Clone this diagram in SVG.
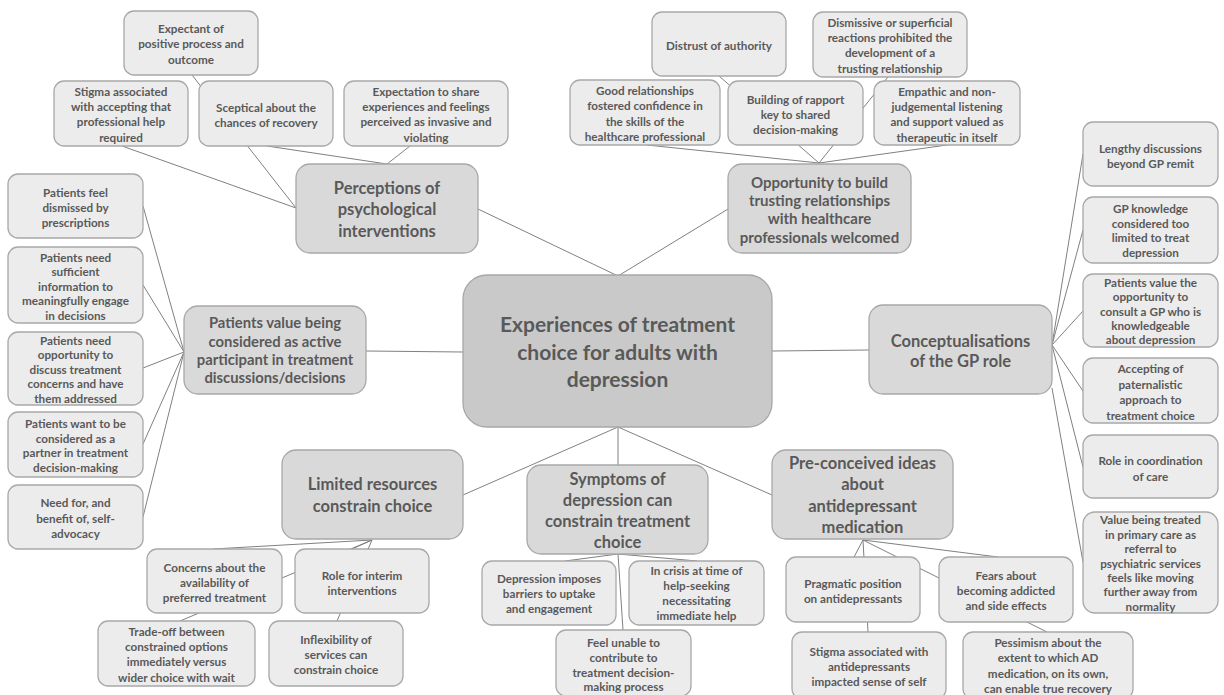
<svg xmlns="http://www.w3.org/2000/svg" width="1224" height="695" viewBox="0 0 1224 695">
<style>
.bg{fill:#ffffff}
.ln{stroke:#808080;stroke-width:1;fill:none}
.c{fill:#ececec;stroke:#a8a8a8;stroke-width:1.3}
.t{fill:#d9d9d9;stroke:#a8a8a8;stroke-width:1.3}
.m{fill:#c9c9c9;stroke:#a8a8a8;stroke-width:1.3}
text{font-family:Lato,"Liberation Sans",sans-serif;font-weight:bold;fill:#595959;text-anchor:middle}
.s{font-size:11.7px}
.l{font-size:16.5px}
.x{font-size:21px}
.p{font-size:14.8px}
.o{font-size:15px}
</style>
<rect class="bg" x="0" y="0" width="1224" height="695"/>
<g id="connectors">
<line class="ln" x1="296" y1="208" x2="192" y2="75"/>
<line class="ln" x1="296" y1="208" x2="122" y2="146"/>
<line class="ln" x1="387" y1="164" x2="267" y2="146"/>
<line class="ln" x1="387" y1="164" x2="410" y2="146"/>
<line class="ln" x1="819" y1="163" x2="719" y2="76"/>
<line class="ln" x1="819" y1="163" x2="647" y2="145"/>
<line class="ln" x1="819" y1="163" x2="888" y2="77"/>
<line class="ln" x1="819" y1="163" x2="947" y2="145"/>
<line class="ln" x1="478" y1="209" x2="618" y2="276"/>
<line class="ln" x1="618" y1="276" x2="728" y2="209"/>
<line class="ln" x1="366" y1="351" x2="463" y2="352"/>
<line class="ln" x1="772" y1="351" x2="869" y2="350"/>
<line class="ln" x1="618" y1="427" x2="463" y2="495"/>
<line class="ln" x1="618" y1="427" x2="618" y2="465"/>
<line class="ln" x1="618" y1="427" x2="772" y2="495"/>
<line class="ln" x1="184" y1="352" x2="143" y2="206"/>
<line class="ln" x1="184" y1="352" x2="143" y2="285"/>
<line class="ln" x1="184" y1="352" x2="143" y2="368"/>
<line class="ln" x1="184" y1="352" x2="143" y2="444"/>
<line class="ln" x1="184" y1="352" x2="143" y2="517"/>
<line class="ln" x1="1052" y1="345" x2="1083" y2="154"/>
<line class="ln" x1="1052" y1="345" x2="1083" y2="230"/>
<line class="ln" x1="1052" y1="345" x2="1083" y2="311"/>
<line class="ln" x1="1052" y1="345" x2="1083" y2="391"/>
<line class="ln" x1="1052" y1="345" x2="1083" y2="467"/>
<line class="ln" x1="1052" y1="388" x2="1083" y2="562"/>
<line class="ln" x1="372" y1="540" x2="213" y2="549"/>
<line class="ln" x1="372" y1="540" x2="352" y2="549"/>
<line class="ln" x1="372" y1="540" x2="337" y2="621"/>
<line class="ln" x1="372" y1="540" x2="180" y2="621"/>
<line class="ln" x1="618" y1="554" x2="565" y2="561"/>
<line class="ln" x1="618" y1="554" x2="697" y2="561"/>
<line class="ln" x1="618" y1="554" x2="623" y2="630"/>
<line class="ln" x1="863" y1="540" x2="854" y2="557"/>
<line class="ln" x1="863" y1="540" x2="868" y2="632"/>
<line class="ln" x1="863" y1="540" x2="998" y2="557"/>
<line class="ln" x1="863" y1="540" x2="1047" y2="632"/>
</g>
<g id="central"><rect class="m" x="463" y="275" width="309" height="152" rx="24"/>
<text class="x"><tspan x="617.5" y="332">Experiences of treatment</tspan><tspan x="617.5" y="360">choice for adults with</tspan><tspan x="617.5" y="387">depression</tspan></text></g>
<g id="perceptions"><rect class="t" x="296" y="164" width="182" height="89" rx="14"/>
<text class="l"><tspan x="387" y="194">Perceptions of</tspan><tspan x="387" y="215">psychological</tspan><tspan x="387" y="237">interventions</tspan></text></g>
<g id="opportunity"><rect class="t" x="728" y="164" width="183" height="89" rx="14"/>
<text class="o"><tspan x="819.5" y="187.5">Opportunity to build</tspan><tspan x="819.5" y="206">trusting relationships</tspan><tspan x="819.5" y="224">with healthcare</tspan><tspan x="819.5" y="242.5">professionals welcomed</tspan></text></g>
<g id="active"><rect class="t" x="184" y="306" width="182" height="88" rx="14"/>
<text class="p"><tspan x="275" y="328">Patients value being</tspan><tspan x="275" y="347">considered as active</tspan><tspan x="275" y="365">participant in treatment</tspan><tspan x="275" y="383">discussions/decisions</tspan></text></g>
<g id="gprole"><rect class="t" x="869" y="305" width="183" height="89" rx="14"/>
<text class="l"><tspan x="960.5" y="347">Conceptualisations</tspan><tspan x="960.5" y="367">of the GP role</tspan></text></g>
<g id="limited"><rect class="t" x="282" y="450" width="181" height="89" rx="14"/>
<text class="l"><tspan x="372.5" y="490">Limited resources</tspan><tspan x="372.5" y="512">constrain choice</tspan></text></g>
<g id="symptoms"><rect class="t" x="527" y="465" width="181" height="89" rx="14"/>
<text class="l"><tspan x="617.5" y="485">Symptoms of</tspan><tspan x="617.5" y="506">depression can</tspan><tspan x="617.5" y="527">constrain treatment</tspan><tspan x="617.5" y="548">choice</tspan></text></g>
<g id="preconceived"><rect class="t" x="772" y="450" width="181" height="89" rx="14"/>
<text class="l"><tspan x="862.5" y="469">Pre-conceived ideas</tspan><tspan x="862.5" y="490">about</tspan><tspan x="862.5" y="512">antidepressant</tspan><tspan x="862.5" y="533">medication</tspan></text></g>
<g id="expectant"><rect class="c" x="124" y="11" width="134" height="64" rx="10"/>
<text class="s"><tspan x="191" y="32.5">Expectant of</tspan><tspan x="191" y="47.5">positive process and</tspan><tspan x="191" y="63.5">outcome</tspan></text></g>
<g id="stigma-help"><rect class="c" x="54" y="81" width="134" height="65" rx="10"/>
<text class="s"><tspan x="121" y="95.5">Stigma associated</tspan><tspan x="121" y="110.5">with accepting that</tspan><tspan x="121" y="125.5">professional help</tspan><tspan x="121" y="141.5">required</tspan></text></g>
<g id="sceptical"><rect class="c" x="199" y="81" width="134" height="65" rx="10"/>
<text class="s"><tspan x="266" y="111.5">Sceptical about the</tspan><tspan x="266" y="126.5">chances of recovery</tspan></text></g>
<g id="expectation"><rect class="c" x="344" y="81" width="164" height="65" rx="10"/>
<text class="s"><tspan x="426" y="95.5">Expectation to share</tspan><tspan x="426" y="110.5">experiences and feelings</tspan><tspan x="426" y="125.5">perceived as invasive and</tspan><tspan x="426" y="141.5">violating</tspan></text></g>
<g id="distrust"><rect class="c" x="652" y="12" width="134" height="64" rx="10"/>
<text class="s"><tspan x="719" y="49.5">Distrust of authority</tspan></text></g>
<g id="good"><rect class="c" x="570" y="80" width="150" height="65" rx="10"/>
<text class="s"><tspan x="645" y="94.5">Good relationships</tspan><tspan x="645" y="109.5">fostered confidence in</tspan><tspan x="645" y="125.5">the skills of the</tspan><tspan x="645" y="140.5">healthcare professional</tspan></text></g>
<g id="rapport"><rect class="c" x="728" y="81" width="135" height="64" rx="10"/>
<text class="s"><tspan x="795.5" y="103.5">Building of rapport</tspan><tspan x="795.5" y="118.5">key to shared</tspan><tspan x="795.5" y="133.5">decision-making</tspan></text></g>
<g id="dismissive"><rect class="c" x="813" y="12" width="154" height="65" rx="10"/>
<text class="s"><tspan x="890" y="26.5">Dismissive or superficial</tspan><tspan x="890" y="41.5">reactions prohibited the</tspan><tspan x="890" y="56.5">development of a</tspan><tspan x="890" y="72.5">trusting relationship</tspan></text></g>
<g id="empathic"><rect class="c" x="874" y="81" width="146" height="64" rx="10"/>
<text class="s"><tspan x="947" y="95.5">Empathic and non-</tspan><tspan x="947" y="110.5">judgemental listening</tspan><tspan x="947" y="125.5">and support valued as</tspan><tspan x="947" y="141.5">therapeutic in itself</tspan></text></g>
<g id="dismissed"><rect class="c" x="8" y="174" width="135" height="64" rx="10"/>
<text class="s"><tspan x="75.5" y="196.5">Patients feel</tspan><tspan x="75.5" y="211.5">dismissed by</tspan><tspan x="75.5" y="226.5">prescriptions</tspan></text></g>
<g id="sufficient"><rect class="c" x="8" y="247" width="135" height="76" rx="10"/>
<text class="s"><tspan x="75.5" y="261.5">Patients need</tspan><tspan x="75.5" y="275.5">sufficient</tspan><tspan x="75.5" y="290.5">information to</tspan><tspan x="75.5" y="304.5">meaningfully engage</tspan><tspan x="75.5" y="319.5">in decisions</tspan></text></g>
<g id="discuss"><rect class="c" x="8" y="332" width="135" height="73" rx="10"/>
<text class="s"><tspan x="75.5" y="344.5">Patients need</tspan><tspan x="75.5" y="358.5">opportunity to</tspan><tspan x="75.5" y="373.5">discuss treatment</tspan><tspan x="75.5" y="387.5">concerns and have</tspan><tspan x="75.5" y="402.5">them addressed</tspan></text></g>
<g id="partner"><rect class="c" x="8" y="412" width="135" height="65" rx="10"/>
<text class="s"><tspan x="75.5" y="427.5">Patients want to be</tspan><tspan x="75.5" y="442.5">considered as a</tspan><tspan x="75.5" y="456.5">partner in treatment</tspan><tspan x="75.5" y="471.5">decision-making</tspan></text></g>
<g id="advocacy"><rect class="c" x="8" y="485" width="135" height="64" rx="10"/>
<text class="s"><tspan x="75.5" y="506.5">Need for, and</tspan><tspan x="75.5" y="522.5">benefit of, self-</tspan><tspan x="75.5" y="537.5">advocacy</tspan></text></g>
<g id="lengthy"><rect class="c" x="1083" y="122" width="135" height="64" rx="10"/>
<text class="s"><tspan x="1150.5" y="152.5">Lengthy discussions</tspan><tspan x="1150.5" y="167.5">beyond GP remit</tspan></text></g>
<g id="knowledge"><rect class="c" x="1083" y="197" width="135" height="66" rx="10"/>
<text class="s"><tspan x="1150.5" y="213">GP knowledge</tspan><tspan x="1150.5" y="227.5">considered too</tspan><tspan x="1150.5" y="242">limited to treat</tspan><tspan x="1150.5" y="256.5">depression</tspan></text></g>
<g id="knowledgeable"><rect class="c" x="1083" y="274" width="135" height="73" rx="10"/>
<text class="s"><tspan x="1150.5" y="286.5">Patients value the</tspan><tspan x="1150.5" y="300.5">opportunity to</tspan><tspan x="1150.5" y="315.5">consult a GP who is</tspan><tspan x="1150.5" y="329.5">knowledgeable</tspan><tspan x="1150.5" y="343.5">about depression</tspan></text></g>
<g id="paternalistic"><rect class="c" x="1083" y="358" width="135" height="65" rx="10"/>
<text class="s"><tspan x="1150.5" y="372.5">Accepting of</tspan><tspan x="1150.5" y="388.5">paternalistic</tspan><tspan x="1150.5" y="403.5">approach to</tspan><tspan x="1150.5" y="419.5">treatment choice</tspan></text></g>
<g id="coordination"><rect class="c" x="1083" y="435" width="135" height="63" rx="10"/>
<text class="s"><tspan x="1150.5" y="464.5">Role in coordination</tspan><tspan x="1150.5" y="480.5">of care</tspan></text></g>
<g id="primary"><rect class="c" x="1083" y="512" width="135" height="101" rx="12"/>
<text class="s"><tspan x="1150.5" y="523.5">Value being treated</tspan><tspan x="1150.5" y="538.5">in primary care as</tspan><tspan x="1150.5" y="552.5">referral to</tspan><tspan x="1150.5" y="567.5">psychiatric services</tspan><tspan x="1150.5" y="581.5">feels like moving</tspan><tspan x="1150.5" y="595.5">further away from</tspan><tspan x="1150.5" y="610.5">normality</tspan></text></g>
<g id="availability"><rect class="c" x="147" y="549" width="135" height="64" rx="10"/>
<text class="s"><tspan x="214.5" y="571.5">Concerns about the</tspan><tspan x="214.5" y="586.5">availability of</tspan><tspan x="214.5" y="601.5">preferred treatment</tspan></text></g>
<g id="interim"><rect class="c" x="295" y="549" width="134" height="64" rx="10"/>
<text class="s"><tspan x="362" y="579.5">Role for interim</tspan><tspan x="362" y="594.5">interventions</tspan></text></g>
<g id="tradeoff"><rect class="c" x="98" y="621" width="157" height="65" rx="10"/>
<text class="s"><tspan x="176.5" y="635.5">Trade-off between</tspan><tspan x="176.5" y="650.5">constrained options</tspan><tspan x="176.5" y="665.5">immediately versus</tspan><tspan x="176.5" y="681.5">wider choice with wait</tspan></text></g>
<g id="inflexibility"><rect class="c" x="269" y="621" width="134" height="65" rx="10"/>
<text class="s"><tspan x="336" y="643.5">Inflexibility of</tspan><tspan x="336" y="658.5">services can</tspan><tspan x="336" y="673.5">constrain choice</tspan></text></g>
<g id="barriers"><rect class="c" x="482" y="561" width="134" height="64" rx="10"/>
<text class="s"><tspan x="549" y="582.5">Depression imposes</tspan><tspan x="549" y="597.5">barriers to uptake</tspan><tspan x="549" y="612.5">and engagement</tspan></text></g>
<g id="crisis"><rect class="c" x="629" y="561" width="135" height="64" rx="10"/>
<text class="s"><tspan x="696.5" y="574.5">In crisis at time of</tspan><tspan x="696.5" y="589.5">help-seeking</tspan><tspan x="696.5" y="604.5">necessitating</tspan><tspan x="696.5" y="619.5">immediate help</tspan></text></g>
<g id="unable"><rect class="c" x="556" y="630" width="135" height="66" rx="10"/>
<text class="s"><tspan x="623.5" y="646.5">Feel unable to</tspan><tspan x="623.5" y="661.5">contribute to</tspan><tspan x="623.5" y="676.5">treatment decision-</tspan><tspan x="623.5" y="690.5">making process</tspan></text></g>
<g id="pragmatic"><rect class="c" x="786" y="557" width="134" height="65" rx="10"/>
<text class="s"><tspan x="853" y="587.5">Pragmatic position</tspan><tspan x="853" y="602.5">on antidepressants</tspan></text></g>
<g id="fears"><rect class="c" x="939" y="557" width="134" height="65" rx="10"/>
<text class="s"><tspan x="1006" y="579.5">Fears about</tspan><tspan x="1006" y="594.5">becoming addicted</tspan><tspan x="1006" y="609.5">and side effects</tspan></text></g>
<g id="stigma-ad"><rect class="c" x="792" y="632" width="154" height="67" rx="10"/>
<text class="s"><tspan x="869" y="655.5">Stigma associated with</tspan><tspan x="869" y="670.5">antidepressants</tspan><tspan x="869" y="685.5">impacted sense of self</tspan></text></g>
<g id="pessimism"><rect class="c" x="963" y="632" width="170" height="67" rx="10"/>
<text class="s"><tspan x="1048" y="646.5">Pessimism about the</tspan><tspan x="1048" y="661.5">extent to which AD</tspan><tspan x="1048" y="677.5">medication, on its own,</tspan><tspan x="1048" y="692.5">can enable true recovery</tspan></text></g>
</svg>
